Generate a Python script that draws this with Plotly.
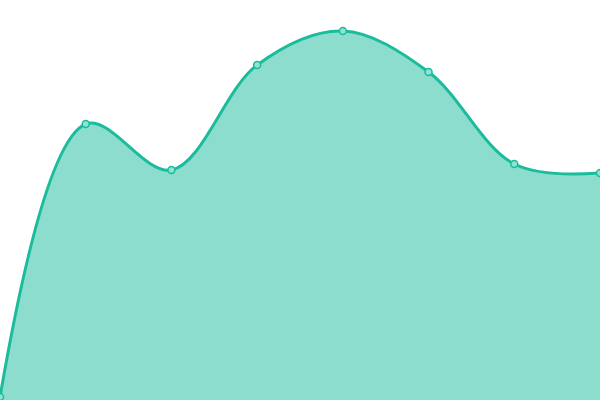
import plotly.graph_objects as go

# values (plot height = 400 units)
x_vals = [0, 1, 2, 3, 4, 5, 6, 7]
y_vals = [3, 276, 230, 335, 369, 328, 236, 227]

line_color = "#1abc9c"
fill_color = "rgba(26,188,156,0.5)"

fig = go.Figure(go.Scatter(
    x=x_vals,
    y=y_vals,
    mode="lines+markers",
    line=dict(color=line_color, width=3, shape="spline", smoothing=1),
    marker=dict(size=7, color="#8ee3d3", line=dict(color=line_color, width=1.5)),
    fill="tozeroy",
    fillcolor=fill_color,
    hoverinfo="skip",
))

fig.update_layout(
    width=600,
    height=400,
    margin=dict(l=0, r=0, t=0, b=0),
    paper_bgcolor="white",
    plot_bgcolor="white",
    showlegend=False,
    xaxis=dict(range=[0, 7], visible=False, fixedrange=True),
    yaxis=dict(range=[0, 400], visible=False, fixedrange=True),
)

# drop the default page margin so the chart sits flush in the window
fig.write_html(
    "out.html",
    config=dict(displayModeBar=False, staticPlot=True),
    post_script="document.body.style.margin='0';document.body.style.overflow='hidden';",
)
